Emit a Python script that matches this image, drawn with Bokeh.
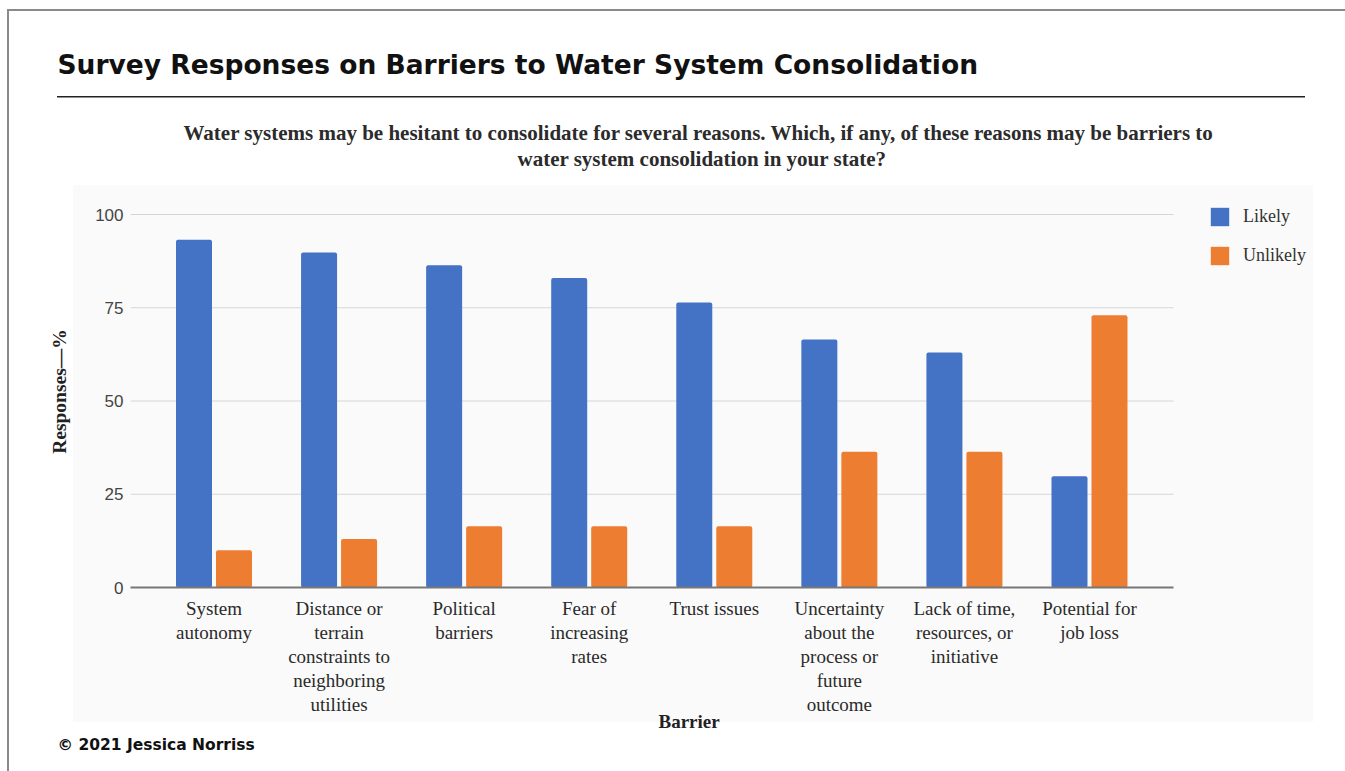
from bokeh.plotting import figure
from bokeh.models import (Legend, LegendItem, FixedTicker, Range1d, Title)
from bokeh.embed import file_html
from bokeh.resources import INLINE

# ---------------- data ----------------
categories = [
    "System\nautonomy",
    "Distance or\nterrain\nconstraints to\nneighboring\nutilities",
    "Political\nbarriers",
    "Fear of\nincreasing\nrates",
    "Trust issues",
    "Uncertainty\nabout the\nprocess or\nfuture\noutcome",
    "Lack of time,\nresources, or\ninitiative",
    "Potential for\njob loss",
]
likely = [93.2, 89.8, 86.4, 83.0, 76.4, 66.5, 63.0, 29.8]
unlikely = [10.0, 13.0, 16.4, 16.4, 16.4, 36.4, 36.4, 73.0]
y_ticks = [0, 25, 50, 75, 100]
series_names = ["Likely", "Unlikely"]

title_text = "Survey Responses on Barriers to Water System Consolidation"
subtitle_lines = [
    "Water systems may be hesitant to consolidate for several reasons. Which, if any, of these reasons may be barriers to",
    "water system consolidation in your state?",
]
y_label = "Responses\u2014%"
x_label = "Barrier"
footer_text = "\u00a9 2021 Jessica Norriss"

BLUE = "#4472c4"
ORANGE = "#ed7d31"

# ---------------- geometry (canvas px) ----------------
W, H = 1345, 771
F_LEFT, F_RIGHT, F_TOP, F_BOTTOM = 130, 1320, 195, 587   # frame (holds legend too)
AXIS_RIGHT = 1173          # where baseline / gridlines end
Y100 = 214                 # pixel of value 100
step = 125.07              # px per category
first_center = 213.5       # px of first category centre

x_start = -(first_center - F_LEFT) / step
x_end = x_start + (F_RIGHT - F_LEFT) / step
x_axis_end = x_start + (AXIS_RIGHT - F_LEFT) / step
ppu = (F_BOTTOM - Y100) / 100.0
y_end = 100 + (Y100 - F_TOP) / ppu

p = figure(width=W, height=H, output_backend="svg", toolbar_location=None,
           x_range=Range1d(x_start, x_end), y_range=Range1d(0, y_end),
           min_border_left=F_LEFT, min_border_right=W - F_RIGHT,
           min_border_top=F_TOP, min_border_bottom=H - F_BOTTOM,
           background_fill_alpha=0, border_fill_alpha=0,
           outline_line_color=None)

# page decorations (border, rule under title, light chart panel) as host background
p.styles = {
    "background-color": "#ffffff",
    "background-image": ("linear-gradient(#8a8a8a,#8a8a8a), linear-gradient(#8a8a8a,#8a8a8a), "
                         "linear-gradient(#222222,#222222), linear-gradient(#fafafa,#fafafa)"),
    "background-size": "1338px 2px, 2px 763px, 1248px 1.5px, 1240px 537px",
    "background-position": "7px 8.5px, 6.5px 8.5px, 57px 96px, 73px 185px",
    "background-repeat": "no-repeat",
}

# horizontal gridlines (limited to the chart area)
p.segment(x0=[x_start] * len(y_ticks), x1=[x_axis_end] * len(y_ticks),
          y0=y_ticks, y1=y_ticks, line_color="#d6d6d6", line_width=1)

xs = list(range(len(categories)))
bw = 36 / step
off = 20 / step
r1 = p.vbar(x=[x - off for x in xs], top=likely, width=bw, bottom=0,
            fill_color=BLUE, line_color=None, border_radius=2)
r2 = p.vbar(x=[x + off for x in xs], top=unlikely, width=bw, bottom=0,
            fill_color=ORANGE, line_color=None, border_radius=2)

p.xaxis.ticker = FixedTicker(ticks=xs)
p.xaxis.bounds = (x_start, x_axis_end)
p.xaxis.major_label_overrides = {i: c for i, c in enumerate(categories)}
p.xaxis.major_tick_line_color = None
p.xaxis.minor_tick_line_color = None
p.xaxis.axis_line_color = "#777777"
p.xaxis.axis_line_width = 2
p.xaxis.major_label_text_font = "Liberation Serif"
p.xaxis.major_label_text_font_size = "19px"
p.xaxis.major_label_text_color = "#2a2a2a"
p.xaxis.major_label_text_line_height = 1.15
p.xaxis.major_label_standoff = 4

p.yaxis.ticker = FixedTicker(ticks=y_ticks)
p.yaxis.axis_line_color = None
p.yaxis.major_tick_line_color = None
p.yaxis.minor_tick_line_color = None
p.yaxis.major_label_text_font = "Liberation Sans"
p.yaxis.major_label_text_font_size = "17px"
p.yaxis.major_label_text_color = "#444444"
p.yaxis.major_label_standoff = 1
p.yaxis.axis_label = y_label
p.yaxis.axis_label_text_font = "Liberation Serif"
p.yaxis.axis_label_text_font_style = "bold"
p.yaxis.axis_label_text_font_size = "19.5px"
p.yaxis.axis_label_text_color = "#222222"
p.yaxis.axis_label_standoff = 22

p.grid.visible = False

# ---- titles above (first added sits nearest the frame) ----
p.add_layout(Title(text=" ", text_font_size="1px", standoff=22), "above")
p.add_layout(Title(text=subtitle_lines[1], align="left", offset=517 - F_LEFT,
                   text_font="Liberation Serif", text_font_style="bold",
                   text_font_size="21px", text_color="#2b2b2b", standoff=0), "above")
p.add_layout(Title(text=subtitle_lines[0], align="left", offset=183 - F_LEFT,
                   text_font="Liberation Serif", text_font_style="bold",
                   text_font_size="21px", text_color="#2b2b2b", standoff=0), "above")
p.add_layout(Title(text=title_text, align="left", offset=57 - F_LEFT,
                   text_font="DejaVu Sans", text_font_style="bold",
                   text_font_size="26.5px", text_color="#111111", standoff=77), "above")

# ---- titles below (first added sits nearest the axis) ----
barrier_kw = dict(text=x_label, align="left", offset=658 - F_LEFT,
                  text_font="Liberation Serif", text_font_style="bold",
                  text_font_size="19px", text_color="#222222")
try:
    barrier_title = Title(standoff=-20, **barrier_kw)
    footer_standoff = 24
except Exception:
    barrier_title = Title(standoff=0, **barrier_kw)
    footer_standoff = 0
p.add_layout(barrier_title, "below")
p.add_layout(Title(text=footer_text, align="left", offset=57 - F_LEFT,
                   text_font="DejaVu Sans", text_font_style="bold",
                   text_font_size="15.5px", text_color="#111111",
                   standoff=footer_standoff), "below")

legend = Legend(items=[LegendItem(label=series_names[0], renderers=[r1]),
                       LegendItem(label=series_names[1], renderers=[r2])],
                location=(1211 - F_LEFT - 3, F_BOTTOM - 265 - 2),
                glyph_width=23, glyph_height=23, label_height=23, spacing=16,
                padding=0, margin=0, label_standoff=12,
                label_text_font="Liberation Serif", label_text_font_size="18px",
                label_text_color="#333333",
                border_line_color=None, background_fill_alpha=0)
p.add_layout(legend, "center")

open("out.html", "w").write(file_html(p, INLINE))
